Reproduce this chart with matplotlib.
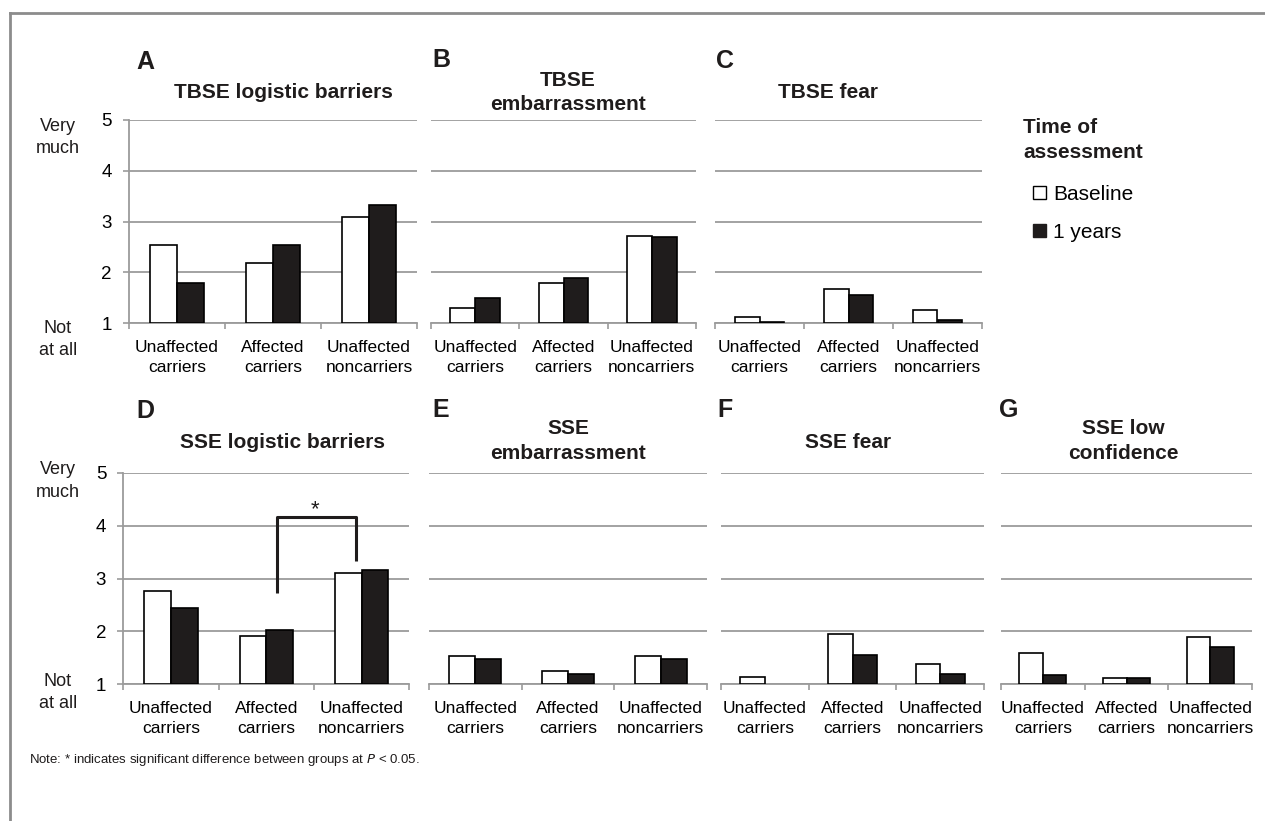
#
# plot.py
# Barriers to skin examination, baseline vs 1 year
#

import numpy as np
import matplotlib
matplotlib.use("Agg")
import matplotlib.pyplot as plt
from matplotlib.patches import Patch
from matplotlib.lines import Line2D

plt.rcParams["font.family"] = ["Liberation Sans", "DejaVu Sans"]

#Data (mean scores, 1 = not at all, 5 = very much)
groups = ["Unaffected\ncarriers", "Affected\ncarriers", "Unaffected\nnoncarriers"]
series_names = ["Baseline", "1 years"]

tbse_logistic_base = [2.55, 2.18, 3.09]
tbse_logistic_1yr = [1.79, 2.55, 3.33]
tbse_embarrass_base = [1.31, 1.80, 2.72]
tbse_embarrass_1yr = [1.49, 1.89, 2.70]
tbse_fear_base = [1.13, 1.68, 1.26]
tbse_fear_1yr = [1.02, 1.55, 1.07]

sse_logistic_base = [2.76, 1.91, 3.10]
sse_logistic_1yr = [2.44, 2.02, 3.16]
sse_embarrass_base = [1.54, 1.25, 1.53]
sse_embarrass_1yr = [1.48, 1.20, 1.47]
sse_fear_base = [1.13, 1.95, 1.38]
sse_fear_1yr = [np.nan, 1.55, 1.20]
sse_lowconf_base = [1.59, 1.12, 1.90]
sse_lowconf_1yr = [1.18, 1.11, 1.70]

W, H = 1265, 821
GRID = "#9b9b9b"
DARK = "#1f1c1c"
BAR_W = 0.28


def px_box(left, right, top, bottom):
    return [left / W, 1 - bottom / H, (right - left) / W, (bottom - top) / H]


def draw_panel(fig, box, base, year1, left_axis):
    ax = fig.add_axes(box)
    x = np.arange(len(groups))
    ax.bar(x - BAR_W / 2, np.array(base) - 1, BAR_W, bottom=1,
           color="white", edgecolor="black", linewidth=1.2, zorder=3)
    ax.bar(x + BAR_W / 2, np.array(year1) - 1, BAR_W, bottom=1,
           color=DARK, edgecolor="black", linewidth=1.2, zorder=3)
    ax.set_xlim(-0.5, 2.5)
    ax.set_ylim(1, 5)

    ax.set_yticks([1, 2, 3, 4, 5])
    ax.grid(axis="y", color=GRID, linewidth=1.3, zorder=0)
    ax.set_xticks(x)
    ax.set_xticklabels(groups, fontsize=12.5, linespacing=1.45)
    ax.set_xticks([-0.5, 0.5, 1.5, 2.5], minor=True)
    ax.tick_params(axis="x", which="major", length=0, pad=12)
    ax.tick_params(axis="x", which="minor", length=4.5, color=GRID,
                   width=1.2, direction="out")

    for side in ["top", "right"]:
        ax.spines[side].set_visible(False)
    ax.spines["bottom"].set_color(GRID)
    ax.spines["bottom"].set_linewidth(1.3)

    if left_axis:
        ax.spines["left"].set_color(GRID)
        ax.spines["left"].set_linewidth(1.3)
        ax.tick_params(axis="y", length=4.3, color=GRID, width=1.2,
                       pad=8, labelsize=13.5)
    else:
        ax.spines["left"].set_visible(False)
        ax.tick_params(axis="y", length=0, labelleft=False)
    return ax


def ftext(fig, x, y, s, **kw):
    fig.text(x / W, 1 - y / H, s, **kw)


def main():
    fig = plt.figure(figsize=(12.65, 8.21), dpi=100)

    #Top row
    top, bottom = 120, 323.3
    draw_panel(fig, px_box(129, 417, top, bottom),
               tbse_logistic_base, tbse_logistic_1yr, True)
    draw_panel(fig, px_box(431, 696, top, bottom),
               tbse_embarrass_base, tbse_embarrass_1yr, False)
    draw_panel(fig, px_box(715, 982, top, bottom),
               tbse_fear_base, tbse_fear_1yr, False)

    #Bottom row
    top, bottom = 472.7, 684.3
    ax_d = draw_panel(fig, px_box(123.3, 409.3, top, bottom),
                      sse_logistic_base, sse_logistic_1yr, True)
    draw_panel(fig, px_box(429, 707, top, bottom),
               sse_embarrass_base, sse_embarrass_1yr, False)
    draw_panel(fig, px_box(721, 984, top, bottom),
               sse_fear_base, sse_fear_1yr, False)
    draw_panel(fig, px_box(1001, 1252, top, bottom),
               sse_lowconf_base, sse_lowconf_1yr, False)

    #Significance bracket in D
    ax_d.plot([1.11, 1.11, 1.94, 1.94], [2.72, 4.16, 4.16, 3.33],
              color=DARK, linewidth=2.2, zorder=4, solid_capstyle="butt")
    ax_d.text(1.51, 4.3, "*", ha="center", va="center", fontsize=16,
              color=DARK)

    #Panel letters and titles
    letter = dict(fontsize=18, fontweight="bold", ha="center", va="center",
                  color=DARK)
    title = dict(fontsize=15, fontweight="bold", ha="center", va="center",
                 color=DARK, linespacing=1.4)
    ftext(fig, 145, 62, "A", **letter)
    ftext(fig, 441, 60, "B", **letter)
    ftext(fig, 725, 61, "C", **letter)
    ftext(fig, 145, 411, "D", **letter)
    ftext(fig, 441, 410, "E", **letter)
    ftext(fig, 725, 410, "F", **letter)
    ftext(fig, 1009, 410, "G", **letter)

    ftext(fig, 283, 93, "TBSE logistic barriers", **title)
    ftext(fig, 568, 92.5, "TBSE\nembarrassment", **title)
    ftext(fig, 828, 93, "TBSE fear", **title)
    ftext(fig, 283, 442, "SSE logistic barriers", **title)
    ftext(fig, 568, 441, "SSE\nembarrassment", **title)
    ftext(fig, 848, 442, "SSE fear", **title)
    ftext(fig, 1123, 441, "SSE low\nconfidence", **title)

    #Scale anchors
    anchor = dict(fontsize=13, ha="center", va="center", color=DARK,
                  linespacing=1.4)
    ftext(fig, 58, 137.5, "Very\nmuch", **anchor)
    ftext(fig, 58, 339.5, "Not\nat all", **anchor)
    ftext(fig, 58, 481, "Very\nmuch", **anchor)
    ftext(fig, 58, 692.5, "Not\nat all", **anchor)

    #Legend
    ftext(fig, 1023, 140, "Time of\nassessment", fontsize=15,
          fontweight="bold", ha="left", va="center", color=DARK,
          linespacing=1.45)
    handles = [Patch(facecolor="white", edgecolor="black", linewidth=1.0),
               Patch(facecolor=DARK, edgecolor=DARK, linewidth=1.0)]
    fig.legend(handles, series_names, loc="upper left",
               bbox_to_anchor=(1033 / W, 1 - 185 / H), frameon=False,
               fontsize=15, handlelength=0.62, handleheight=0.62,
               handletextpad=0.35, labelspacing=0.9, borderpad=0,
               borderaxespad=0)

    #Note
    fig.text(29 / W, 1 - 760 / H,
             "Note: * indicates significant difference between groups at "
             "$P$ < 0.05.", fontsize=9.5, ha="left", va="center", color=DARK)

    #Frame lines
    fig.add_artist(Line2D([10 / W, 1], [1 - 13 / H, 1 - 13 / H],
                          color="#8c8c8c", linewidth=2))
    fig.add_artist(Line2D([10 / W, 10 / W], [0, 1 - 13 / H],
                          color="#8c8c8c", linewidth=2))

    fig.savefig("out.png", dpi=100)


if __name__ == "__main__":
    main()
